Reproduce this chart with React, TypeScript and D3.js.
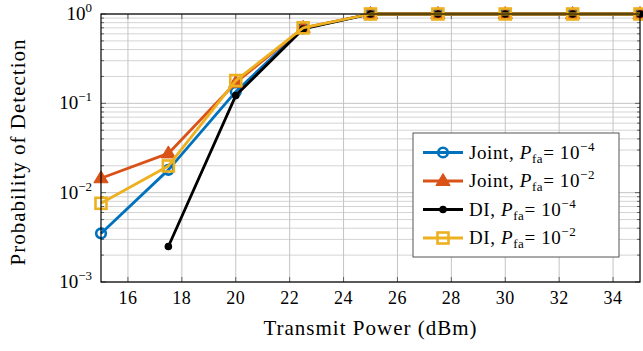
import { useEffect, useRef } from 'react';
import * as d3 from 'd3';

const powers = [15, 17.5, 20, 22.5, 25, 27.5, 30, 32.5, 35];
const jointPfa4 = [0.0035, 0.018, 0.135, 0.69, 1, 1, 1, 1, 1];
const jointPfa2 = [0.0145, 0.0275, 0.17, 0.7, 1, 1, 1, 1, 1];
const diPfa4 = [null, 0.0025, 0.122, 0.68, 1, 1, 1, 1, 1];
const diPfa2 = [0.0076, 0.0199, 0.18, 0.7, 1, 1, 1, 1, 1];
const xTicks = [16, 18, 20, 22, 24, 26, 28, 30, 32, 34];
const yDecades = [-3, -2, -1, 0];

const series = [
  { name: 'Joint', exp: '−4', values: jointPfa4, color: '#0072BD', marker: 'circle' },
  { name: 'Joint', exp: '−2', values: jointPfa2, color: '#D95319', marker: 'triangle' },
  { name: 'DI', exp: '−4', values: diPfa4, color: '#000000', marker: 'dot' },
  { name: 'DI', exp: '−2', values: diPfa2, color: '#EDB120', marker: 'square' },
];

const FONT = '"Liberation Serif", "DejaVu Serif", serif';

export default function App() {
  const svgRef = useRef<SVGSVGElement>(null);
  const width = 643;
  const height = 351;

  useEffect(() => {
    if (!svgRef.current) return;
    const svg = d3.select(svgRef.current);
    svg.selectAll('*').remove();

    const margin = { top: 14, right: 3, bottom: 69, left: 101 };
    const innerWidth = width - margin.left - margin.right;
    const innerHeight = height - margin.top - margin.bottom;

    const x = d3.scaleLinear().domain([15, 35]).range([0, innerWidth]);
    const y = d3.scaleLog().domain([1e-3, 1]).range([innerHeight, 0]);

    const g = svg.append('g').attr('transform', `translate(${margin.left},${margin.top})`);

    // minor + major horizontal grid
    const minorY: number[] = [];
    for (let d = -3; d < 0; d++) {
      for (let k = 2; k <= 9; k++) minorY.push(k * Math.pow(10, d));
    }
    g.selectAll('.gy-minor')
      .data(minorY)
      .join('line')
      .attr('x1', 0).attr('x2', innerWidth)
      .attr('y1', d => y(d)).attr('y2', d => y(d))
      .attr('stroke', '#d4d4d4').attr('stroke-width', 1);
    g.selectAll('.gy-major')
      .data(yDecades.map(d => Math.pow(10, d)))
      .join('line')
      .attr('x1', 0).attr('x2', innerWidth)
      .attr('y1', d => y(d)).attr('y2', d => y(d))
      .attr('stroke', '#c4c4c4').attr('stroke-width', 1);
    g.selectAll('.gx')
      .data(xTicks)
      .join('line')
      .attr('x1', d => x(d)).attr('x2', d => x(d))
      .attr('y1', 0).attr('y2', innerHeight)
      .attr('stroke', '#c4c4c4').attr('stroke-width', 1);

    // tick marks inside on all sides
    const tickG = g.append('g').attr('stroke', '#444').attr('stroke-width', 0.8);
    xTicks.forEach(t => {
      tickG.append('line').attr('x1', x(t)).attr('x2', x(t)).attr('y1', innerHeight).attr('y2', innerHeight - 5);
      tickG.append('line').attr('x1', x(t)).attr('x2', x(t)).attr('y1', 0).attr('y2', 5);
    });
    minorY.forEach(t => {
      tickG.append('line').attr('x1', 0).attr('x2', 3).attr('y1', y(t)).attr('y2', y(t));
      tickG.append('line').attr('x1', innerWidth).attr('x2', innerWidth - 3).attr('y1', y(t)).attr('y2', y(t));
    });
    yDecades.forEach(dd => {
      const t = Math.pow(10, dd);
      tickG.append('line').attr('x1', 0).attr('x2', 5).attr('y1', y(t)).attr('y2', y(t));
      tickG.append('line').attr('x1', innerWidth).attr('x2', innerWidth - 5).attr('y1', y(t)).attr('y2', y(t));
    });

    // series
    const line = d3.line<[number, number | null]>()
      .defined(d => d[1] !== null)
      .x(d => x(d[0]))
      .y(d => y(d[1] as number));

    const drawMarker = (sel: d3.Selection<SVGGElement, unknown, null, undefined>, kind: string, color: string, cx: number, cy: number) => {
      if (kind === 'circle') {
        sel.append('circle').attr('cx', cx).attr('cy', cy).attr('r', 4.8)
          .attr('fill', 'none').attr('stroke', color).attr('stroke-width', 2.6);
      } else if (kind === 'triangle') {
        const s = 7.5;
        sel.append('path')
          .attr('d', `M${cx},${cy - s} L${cx + s * 0.95},${cy + s * 0.6} L${cx - s * 0.95},${cy + s * 0.6} Z`)
          .attr('fill', color).attr('stroke', color).attr('stroke-width', 1);
      } else if (kind === 'dot') {
        sel.append('circle').attr('cx', cx).attr('cy', cy).attr('r', 3.8).attr('fill', color);
      } else {
        sel.append('rect').attr('x', cx - 5.5).attr('y', cy - 5.5).attr('width', 11).attr('height', 11)
          .attr('fill', 'none').attr('stroke', color).attr('stroke-width', 2.6);
      }
    };

    const plot = g.append('g');
    series.forEach(s => {
      const pts = powers.map((p, i) => [p, s.values[i]] as [number, number | null]);
      const sg = plot.append('g');
      sg.append('path')
        .attr('d', line(pts))
        .attr('fill', 'none')
        .attr('stroke', s.color)
        .attr('stroke-width', 2.8)
        .attr('stroke-linejoin', 'round');
      pts.filter(d => d[1] !== null).forEach(d => {
        drawMarker(sg as any, s.marker, s.color, x(d[0]), y(d[1] as number));
      });
    });

    // frame
    g.append('rect')
      .attr('width', innerWidth).attr('height', innerHeight)
      .attr('fill', 'none').attr('stroke', '#000').attr('stroke-width', 1.2);

    // x tick labels
    g.selectAll('.xl')
      .data(xTicks)
      .join('text')
      .attr('x', d => x(d))
      .attr('y', innerHeight + 21.5)
      .attr('text-anchor', 'middle')
      .attr('font-family', FONT)
      .attr('font-size', 18)
      .attr('letter-spacing', 0.5)
      .text(d => String(d));

    // y tick labels
    yDecades.forEach(dd => {
      const t = g.append('text')
        .attr('x', -9)
        .attr('y', y(Math.pow(10, dd)) + 6)
        .attr('text-anchor', 'end')
        .attr('font-family', FONT)
        .attr('font-size', 19);
      t.append('tspan').text('10');
      t.append('tspan').attr('dy', -8).attr('font-size', 13).text(dd === 0 ? '0' : `−${-dd}`);
    });

    // axis labels
    svg.append('text')
      .attr('x', margin.left + innerWidth / 2)
      .attr('y', 335)
      .attr('text-anchor', 'middle')
      .attr('font-family', FONT)
      .attr('font-size', 21)
      .attr('letter-spacing', 1)
      .text('Transmit Power (dBm)');

    svg.append('text')
      .attr('transform', `translate(25,152) rotate(-90)`)
      .attr('text-anchor', 'middle')
      .attr('font-family', FONT)
      .attr('font-size', 21)
      .attr('letter-spacing', 1)
      .text('Probability of Detection');

    // legend
    const legend = svg.append('g').attr('transform', 'translate(413,133)');
    legend.append('rect')
      .attr('width', 206).attr('height', 124)
      .attr('fill', '#fff').attr('stroke', '#555').attr('stroke-width', 1);
    series.forEach((s, i) => {
      const cy = 19.5 + i * 28.5;
      const row = legend.append('g');
      row.append('line').attr('x1', 10).attr('x2', 50).attr('y1', cy).attr('y2', cy)
        .attr('stroke', s.color).attr('stroke-width', 2.8);
      drawMarker(row as any, s.marker, s.color, 30, cy);
      const t = row.append('text')
        .attr('x', 56).attr('y', cy + 6)
        .attr('font-family', FONT).attr('font-size', 19)
        .attr('letter-spacing', 0.6);
      t.append('tspan').text(`${s.name}, `);
      t.append('tspan').attr('font-style', 'italic').text('P');
      t.append('tspan').attr('dy', 4).attr('font-size', 13).text('fa');
      t.append('tspan').attr('dy', -4).text('= 10');
      t.append('tspan').attr('dy', -8).attr('font-size', 13).text(s.exp);
    });
  }, []);

  return (
    <svg
      ref={svgRef}
      width={width}
      height={height}
      style={{ position: 'fixed', top: 0, left: 0, background: '#fff' }}
    />
  );
}
